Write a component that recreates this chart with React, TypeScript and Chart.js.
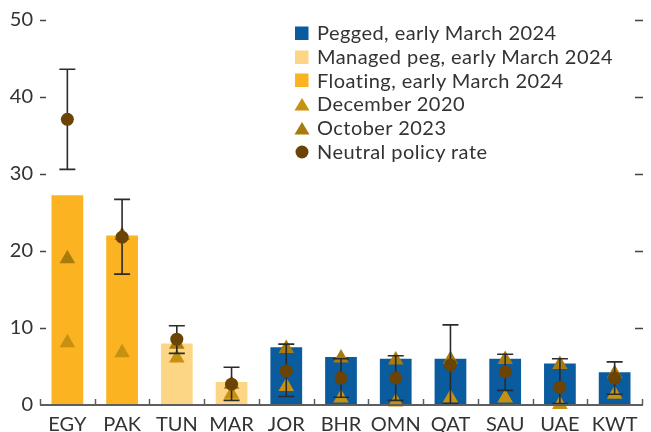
import React, { useEffect, useRef } from "react";
import { Chart, registerables } from "chart.js";

Chart.register(...registerables);

const categories = ["EGY", "PAK", "TUN", "MAR", "JOR", "BHR", "OMN", "QAT", "SAU", "UAE", "KWT"];
const regimes = ["Floating", "Floating", "Managed peg", "Managed peg", "Pegged", "Pegged", "Pegged", "Pegged", "Pegged", "Pegged", "Pegged"];
const march2024 = [27.25, 22, 8, 3, 7.5, 6.25, 6, 6, 6, 5.4, 4.25];
const dec2020 = [8.1, 6.8, 6.1, 1.4, 2.4, 0.9, 0.4, 0.9, 0.9, 0.05, 1.4];
const oct2023 = [19.0, 22, 7.9, 2.7, 7.35, 6.1, 5.85, 5.9, 5.9, 5.25, 4.1];
const neutral = [37.1, 21.8, 8.55, 2.7, 4.4, 3.5, 3.5, 5.2, 4.3, 2.3, 3.5];
const neutralLow = [30.6, 17.0, 6.7, 0.6, 1.1, 1.0, 0.6, 0.2, 1.9, 0.2, 1.4];
const neutralHigh = [43.6, 26.7, 10.3, 4.9, 7.9, 6.0, 6.4, 10.4, 6.6, 6.0, 5.6];
const yTicks = [0, 10, 20, 30, 40, 50];

const regimeColors: Record<string, string> = {
  Pegged: "#0a5c9e",
  "Managed peg": "#fdd685",
  Floating: "#fbb321",
};
const decColor = "#c8900f";
const octColor = "#a97a0c";
const neutralColor = "#6a4305";
const textColor = "#333333";
const FONT = "Lato, 'Open Sans', sans-serif";

const legendItems = [
  { label: "Pegged, early March 2024", shape: "square", color: regimeColors.Pegged },
  { label: "Managed peg, early March 2024", shape: "square", color: regimeColors["Managed peg"] },
  { label: "Floating, early March 2024", shape: "square", color: regimeColors.Floating },
  { label: "December 2020", shape: "triangle", color: decColor },
  { label: "October 2023", shape: "triangle", color: octColor },
  { label: "Neutral policy rate", shape: "circle", color: neutralColor },
];

const axisDecor = {
  id: "axisDecor",
  afterDatasetDraw(chart: any, args: any) {
    if (args.index !== 2) return;
    const ctx = chart.ctx;
    const x = chart.scales.x;
    const y = chart.scales.y;
    ctx.save();
    ctx.strokeStyle = "#2b2b2b";
    ctx.lineWidth = 1.6;
    categories.forEach((_, i) => {
      const px = x.getPixelForValue(i);
      const top = y.getPixelForValue(neutralHigh[i]);
      const bot = y.getPixelForValue(neutralLow[i]);
      ctx.beginPath();
      ctx.moveTo(px, top);
      ctx.lineTo(px, bot);
      ctx.moveTo(px - 8, top);
      ctx.lineTo(px + 8, top);
      ctx.moveTo(px - 8, bot);
      ctx.lineTo(px + 8, bot);
      ctx.stroke();
    });
    ctx.restore();
  },
  afterDraw(chart: any) {
    const ctx = chart.ctx;
    const area = chart.chartArea;
    const y = chart.scales.y;
    const base = y.getPixelForValue(0);
    ctx.save();
    ctx.strokeStyle = "#444";
    ctx.lineWidth = 1.5;
    yTicks.forEach((v) => {
      if (v === 0) return;
      const py = Math.round(y.getPixelForValue(v)) + 0.5;
      ctx.beginPath();
      ctx.moveTo(area.left, py);
      ctx.lineTo(area.left + 6, py);
      ctx.moveTo(area.right - 7, py);
      ctx.lineTo(area.right + 1, py);
      ctx.stroke();
    });
    ctx.strokeStyle = "#5e5e5e";
    const n = categories.length;
    const step = (area.right - area.left) / n;
    for (let i = 0; i <= n; i++) {
      const px = Math.round(area.left + i * step) + 0.5;
      ctx.beginPath();
      ctx.moveTo(px, base);
      ctx.lineTo(px, base - 6);
      ctx.stroke();
    }
    ctx.lineWidth = 2.2;
    ctx.beginPath();
    ctx.moveTo(area.left, base);
    ctx.lineTo(area.right + 1, base);
    ctx.stroke();
    ctx.restore();
  },
};

function Marker({ shape, color }: { shape: string; color: string }) {
  return (
    <svg width={16} height={16} style={{ display: "block", flex: "0 0 auto" }}>
      {shape === "square" && <rect x={1} y={1.5} width={13.5} height={13.5} fill={color} />}
      {shape === "triangle" && <polygon points="8,2 15.5,14.5 0.5,14.5" fill={color} />}
      {shape === "circle" && <circle cx={8} cy={8} r={6.5} fill={color} />}
    </svg>
  );
}

export default function App() {
  const ref = useRef<HTMLCanvasElement | null>(null);
  useEffect(() => {
    if (!ref.current) return;
    const chart = new Chart(ref.current, {
      type: "bar",
      data: {
        labels: categories,
        datasets: [
          {
            type: "bar",
            label: "Early March 2024",
            data: march2024,
            backgroundColor: regimes.map((r) => regimeColors[r]),
            categoryPercentage: 1,
            barPercentage: 0.58,
            order: 4,
          },
          {
            type: "line",
            label: "December 2020",
            data: dec2020,
            showLine: false,
            pointStyle: "triangle",
            pointRadius: 9,
            pointBackgroundColor: decColor,
            pointBorderWidth: 0,
            borderColor: decColor,
            clip: false,
            order: 3,
          } as any,
          {
            type: "line",
            label: "October 2023",
            data: oct2023,
            showLine: false,
            pointStyle: "triangle",
            pointRadius: 9,
            pointBackgroundColor: octColor,
            pointBorderWidth: 0,
            borderColor: octColor,
            clip: false,
            order: 2,
          } as any,
          {
            type: "line",
            label: "Neutral policy rate",
            data: neutral,
            showLine: false,
            pointStyle: "circle",
            pointRadius: 6.5,
            pointBackgroundColor: neutralColor,
            pointBorderWidth: 0,
            borderColor: neutralColor,
            clip: false,
            order: 1,
          } as any,
        ],
      },
      options: {
        responsive: false,
        animation: false,
        layout: { padding: { top: 20, right: 1, left: 0, bottom: 0 } },
        plugins: { legend: { display: false }, tooltip: { enabled: false } },
        scales: {
          x: {
            grid: { display: false, drawTicks: false },
            border: { display: false },
            ticks: { color: textColor, font: { family: FONT, size: 20 }, padding: 8, maxRotation: 0 },
            afterFit: (s: any) => {
              s.height = 27;
            },
          },
          y: {
            min: 0,
            max: 50,
            grid: { display: false, drawTicks: false },
            border: { display: false },
            afterBuildTicks: (s: any) => {
              s.ticks = yTicks.map((v) => ({ value: v }));
            },
            ticks: { color: textColor, font: { family: FONT, size: 20 }, padding: 7 },
            afterFit: (s: any) => {
              s.width = 40;
            },
          },
        },
      },
      plugins: [axisDecor],
    });
    return () => chart.destroy();
  }, []);

  return (
    <div style={{ position: "fixed", left: 0, top: 0, width: 651, height: 432, background: "#fff" }}>
      <canvas ref={ref} width={651} height={432} style={{ display: "block" }} />
      <div style={{ position: "absolute", left: 294, top: 21, fontFamily: FONT, fontSize: 20, letterSpacing: "0.45px", color: textColor }}>
        {legendItems.map((it) => (
          <div key={it.label} style={{ display: "flex", alignItems: "center", height: 23.8, gap: 7 }}>
            <Marker shape={it.shape} color={it.color} />
            <span style={{ whiteSpace: "nowrap", lineHeight: "23.8px" }}>{it.label}</span>
          </div>
        ))}
      </div>
    </div>
  );
}
